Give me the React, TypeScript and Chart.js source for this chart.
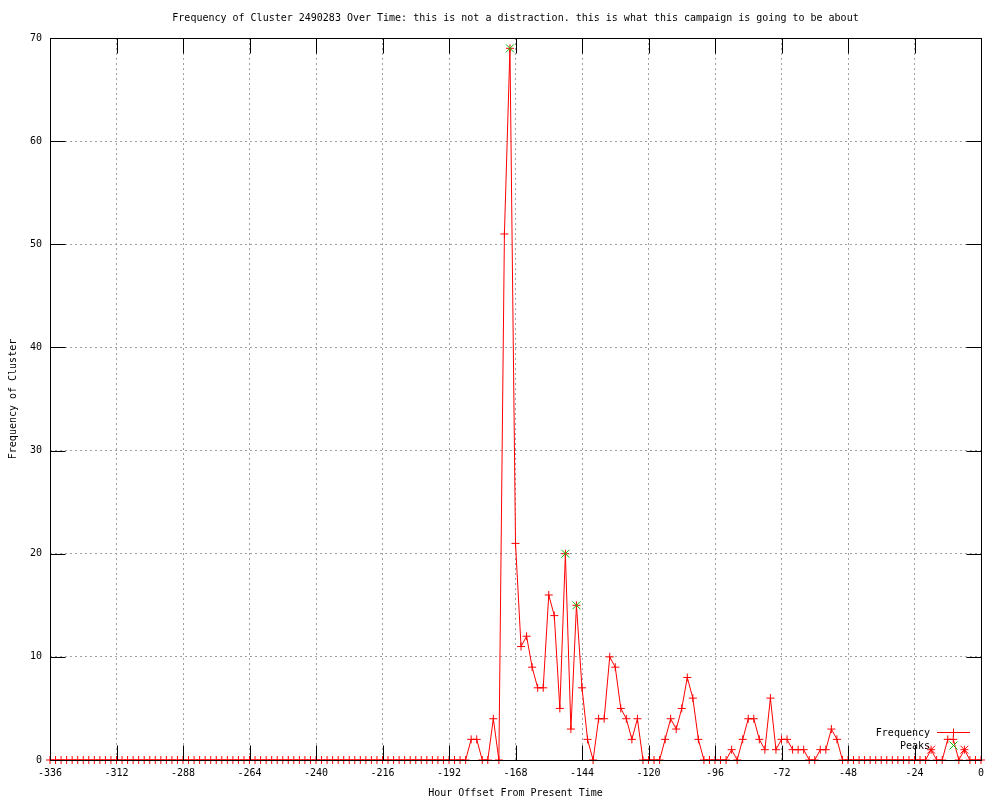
import React, { useEffect, useRef } from "react";
import { Chart, registerables } from "chart.js";

Chart.register(...registerables);

const titleText =
  "Frequency of Cluster 2490283 Over Time: this is not a distraction. this is what this campaign is going to be about";
const xAxisTitle = "Hour Offset From Present Time";
const yAxisTitle = "Frequency of Cluster";

const xTickValues = [-336, -312, -288, -264, -240, -216, -192, -168, -144, -120, -96, -72, -48, -24, 0];
const yTickValues = [0, 10, 20, 30, 40, 50, 60, 70];

const hours = [
  -336, -334, -332, -330, -328, -326, -324, -322, -320, -318, -316, -314,
  -312, -310, -308, -306, -304, -302, -300, -298, -296, -294, -292, -290,
  -288, -286, -284, -282, -280, -278, -276, -274, -272, -270, -268, -266,
  -264, -262, -260, -258, -256, -254, -252, -250, -248, -246, -244, -242,
  -240, -238, -236, -234, -232, -230, -228, -226, -224, -222, -220, -218,
  -216, -214, -212, -210, -208, -206, -204, -202, -200, -198, -196, -194,
  -192, -190, -188, -186, -184, -182, -180, -178, -176, -174, -172, -170,
  -168, -166, -164, -162, -160, -158, -156, -154, -152, -150, -148, -146,
  -144, -142, -140, -138, -136, -134, -132, -130, -128, -126, -124, -122,
  -120, -118, -116, -114, -112, -110, -108, -106, -104, -102, -100, -98,
  -96, -94, -92, -90, -88, -86, -84, -82, -80, -78, -76, -74,
  -72, -70, -68, -66, -64, -62, -60, -58, -56, -54, -52, -50,
  -48, -46, -44, -42, -40, -38, -36, -34, -32, -30, -28, -26,
  -24, -22, -20, -18, -16, -14, -12, -10, -8, -6, -4, -2,
  0,
];

const frequency = [
  0, 0, 0, 0, 0, 0, 0, 0, 0, 0, 0, 0,
  0, 0, 0, 0, 0, 0, 0, 0, 0, 0, 0, 0,
  0, 0, 0, 0, 0, 0, 0, 0, 0, 0, 0, 0,
  0, 0, 0, 0, 0, 0, 0, 0, 0, 0, 0, 0,
  0, 0, 0, 0, 0, 0, 0, 0, 0, 0, 0, 0,
  0, 0, 0, 0, 0, 0, 0, 0, 0, 0, 0, 0,
  0, 0, 0, 0, 2, 2, 0, 0, 4, 0, 51, 69,
  21, 11, 12, 9, 7, 7, 16, 14, 5, 20, 3, 15,
  7, 2, 0, 4, 4, 10, 9, 5, 4, 2, 4, 0,
  0, 0, 0, 2, 4, 3, 5, 8, 6, 2, 0, 0,
  0, 0, 0, 1, 0, 2, 4, 4, 2, 1, 6, 1,
  2, 2, 1, 1, 1, 0, 0, 1, 1, 3, 2, 0,
  0, 0, 0, 0, 0, 0, 0, 0, 0, 0, 0, 0,
  0, 0, 0, 1, 0, 0, 2, 2, 0, 1, 0, 0,
  0,
];

const peakHours = [-170, -150, -146, -18, -6];
const peakValues = [69, 20, 15, 1, 1];
const peakColors = ["#00c000", "#00c000", "#00c000", "#ff0000", "#ff0000"];

const FONT_FAMILY = "'DejaVu Sans Mono', 'Liberation Mono', monospace";
const baseFont = { family: FONT_FAMILY, size: 10, weight: "normal" as const, lineHeight: 1.2 };
const RED = "#ff0000";
const GREEN = "#00c000";
const TICK_LEN = 15;

const framePlugin = {
  id: "gnuplotFrame",
  afterDatasetsDraw(chart: any) {
    const { ctx, chartArea, scales } = chart;
    const { left, top, right, bottom } = chartArea;
    const L = Math.round(left) + 0.5;
    const R = Math.round(right) + 0.5;
    const T = Math.round(top) + 0.5;
    const B = Math.round(bottom) + 0.5;
    ctx.save();
    ctx.strokeStyle = "#000";
    ctx.lineWidth = 1;
    ctx.setLineDash([]);
    ctx.beginPath();
    for (const v of xTickValues) {
      const px = Math.round(scales.x.getPixelForValue(v)) + 0.5;
      ctx.moveTo(px, B);
      ctx.lineTo(px, B - TICK_LEN);
      ctx.moveTo(px, T);
      ctx.lineTo(px, T + TICK_LEN);
    }
    for (const v of yTickValues) {
      const py = Math.round(scales.y.getPixelForValue(v)) + 0.5;
      ctx.moveTo(L, py);
      ctx.lineTo(L + TICK_LEN, py);
      ctx.moveTo(R, py);
      ctx.lineTo(R - TICK_LEN, py);
    }
    ctx.stroke();
    ctx.strokeRect(L, T, R - L, B - T);
    ctx.restore();
  },
};

const legendPlugin = {
  id: "gnuplotLegend",
  afterDraw(chart: any) {
    const { ctx, chartArea } = chart;
    const { right, bottom } = chartArea;
    const ds = chart.data.datasets;
    ctx.save();
    ctx.font = `10px ${FONT_FAMILY}`;
    ctx.fillStyle = "#000";
    ctx.textAlign = "right";
    ctx.textBaseline = "middle";
    const textRight = right - 51;
    const sx = Math.round(right - 28) + 0.5;
    // Frequency row
    const y1 = Math.round(bottom - 28) + 0.5;
    ctx.fillText(ds[0].label, textRight, y1 + 1);
    ctx.strokeStyle = RED;
    ctx.lineWidth = 1;
    ctx.beginPath();
    ctx.moveTo(Math.round(right - 44), y1);
    ctx.lineTo(Math.round(right - 11), y1);
    ctx.moveTo(sx, y1 - 4);
    ctx.lineTo(sx, y1 + 4);
    ctx.stroke();
    // Peaks row
    const y2 = Math.round(bottom - 15) + 0.5;
    ctx.fillText(ds[1].label, textRight, y2 + 1);
    ctx.strokeStyle = GREEN;
    ctx.beginPath();
    ctx.moveTo(sx - 4, y2 - 4);
    ctx.lineTo(sx + 4, y2 + 4);
    ctx.moveTo(sx - 4, y2 + 4);
    ctx.lineTo(sx + 4, y2 - 4);
    ctx.stroke();
    ctx.restore();
  },
};

export default function App() {
  const canvasRef = useRef<HTMLCanvasElement | null>(null);

  useEffect(() => {
    document.body.style.margin = "0";
    const canvas = canvasRef.current;
    if (!canvas) return;

    const freqData = hours.map((h, i) => ({ x: h, y: frequency[i] }));
    const peakData = peakHours.map((h, i) => ({ x: h, y: peakValues[i] }));

    const chart = new Chart(canvas, {
      type: "line",
      data: {
        datasets: [
          {
            label: "Frequency",
            data: freqData,
            borderColor: RED,
            borderWidth: 1,
            backgroundColor: RED,
            pointStyle: "cross",
            pointRadius: 4,
            pointBorderColor: RED,
            pointBorderWidth: 1,
            pointHoverRadius: 4,
            tension: 0,
            fill: false,
            clip: false as any,
            order: 2,
          },
          {
            label: "Peaks",
            data: peakData,
            showLine: false,
            borderColor: GREEN,
            backgroundColor: GREEN,
            pointStyle: "crossRot",
            pointRadius: 5.6,
            pointBorderColor: peakColors,
            pointBorderWidth: 1,
            pointHoverRadius: 5.6,
            clip: false as any,
            order: 1,
          },
        ],
      },
      options: {
        responsive: false,
        animation: false,
        events: [],
        layout: { padding: { left: 0, right: 19, top: 0, bottom: 0 } },
        plugins: {
          legend: { display: false },
          tooltip: { enabled: false },
          title: {
            display: true,
            text: titleText,
            fullSize: false,
            color: "#000",
            font: baseFont,
            padding: { top: 12, bottom: 14 },
          },
        },
        scales: {
          x: {
            type: "linear",
            min: -336,
            max: 0,
            afterBuildTicks: (s: any) => {
              s.ticks = xTickValues.map((v) => ({ value: v }));
            },
            afterFit: (s: any) => {
              s.height = 40;
            },
            ticks: {
              color: "#000",
              font: baseFont,
              padding: 7,
              maxRotation: 0,
              autoSkip: false,
              callback: (v: any) => String(v),
            },
            grid: { color: "#a0a0a0", lineWidth: 1, drawTicks: false },
            border: { display: false, dash: [2, 3] },
            title: {
              display: true,
              text: xAxisTitle,
              color: "#000",
              font: baseFont,
              padding: { top: 0, bottom: 1 },
            },
          },
          y: {
            type: "linear",
            min: 0,
            max: 70,
            afterBuildTicks: (s: any) => {
              s.ticks = yTickValues.map((v) => ({ value: v }));
            },
            afterFit: (s: any) => {
              s.width = 50;
            },
            ticks: {
              color: "#000",
              font: baseFont,
              padding: 8,
              callback: (v: any) => String(v),
            },
            grid: { color: "#a0a0a0", lineWidth: 1, drawTicks: false },
            border: { display: false, dash: [2, 3] },
            title: {
              display: true,
              text: yAxisTitle,
              color: "#000",
              font: baseFont,
              padding: { top: 7, bottom: 0 },
            },
          },
        },
      },
      plugins: [framePlugin, legendPlugin],
    });

    return () => {
      chart.destroy();
    };
  }, []);

  return (
    <div style={{ width: 1000, height: 800, background: "#fff" }}>
      <canvas ref={canvasRef} width={1000} height={800} style={{ display: "block" }} />
    </div>
  );
}
